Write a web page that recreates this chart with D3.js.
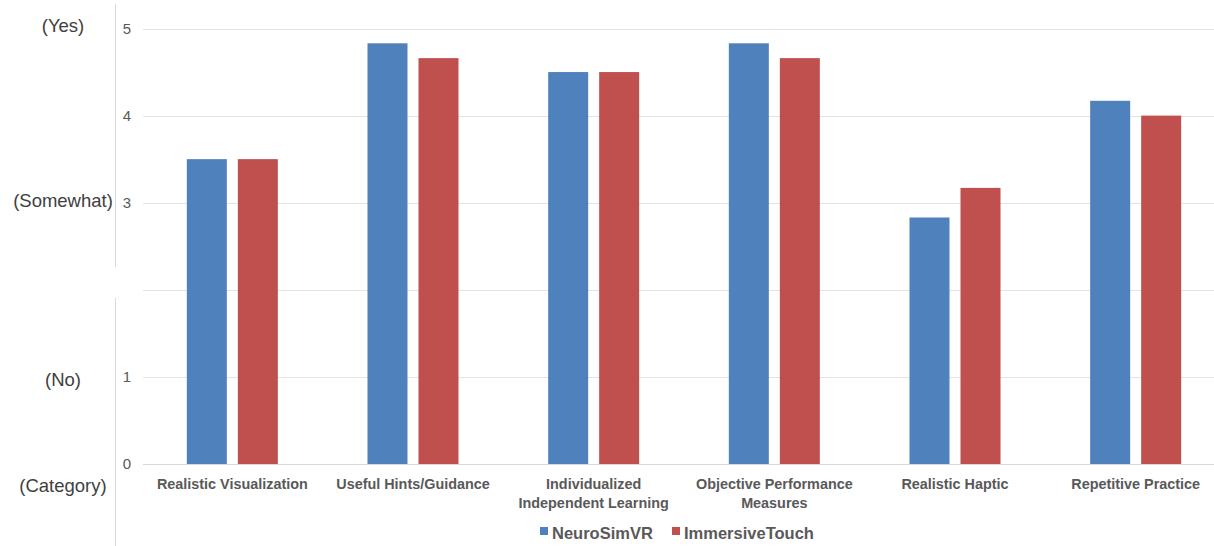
<!DOCTYPE html>
<html><head><meta charset="utf-8">
<script src="https://cdn.jsdelivr.net/npm/d3@7"></script>
<style>body{margin:0;background:#fff;} svg{display:block;font-family:"Liberation Sans",Arial,sans-serif;}</style>
</head><body><svg id="c" width="1214" height="546"></svg>
<script>
const categories = ["Realistic Visualization","Useful Hints/Guidance","Individualized\nIndependent Learning","Objective Performance\nMeasures","Realistic Haptic","Repetitive Practice"];
const seriesNames = ["NeuroSimVR","ImmersiveTouch"];
const neuroSimVR = [3.5,4.83,4.5,4.83,2.83,4.17];
const immersiveTouch = [3.5,4.66,4.5,4.66,3.17,4.0];
const yTicks = [0,1,3,4,5];
const gridValues = [0,1,2,3,4,5];
const scaleLabels = [{v:4.96,t:"(Yes)"},{v:2.95,t:"(Somewhat)"},{v:0.89,t:"(No)"},{v:-0.32,t:"(Category)"}];
const colors = ["#4F81BD","#C0504D"];

const svg = d3.select("#c");
const x0 = d3.scaleBand().domain(categories).range([142,1226]).paddingInner(0).paddingOuter(0);
const y = d3.scaleLinear().domain([0,5]).range([464,28.5]);
const x1 = d3.scaleBand().domain(seriesNames).range([0,x0.bandwidth()]).paddingOuter(0.879).paddingInner(0.2157);

// left vertical line
svg.append("line").attr("x1",115.5).attr("x2",115.5).attr("y1",4).attr("y2",267).attr("stroke","#d9d9d9");
svg.append("line").attr("x1",115.5).attr("x2",115.5).attr("y1",298).attr("y2",546).attr("stroke","#d9d9d9");

// grid
svg.append("g").selectAll("line").data(gridValues).join("line")
  .attr("x1",143).attr("x2",1214)
  .attr("y1",d=>Math.round(y(d))+0.5).attr("y2",d=>Math.round(y(d))+0.5)
  .attr("stroke",d=>d===0?"#d9d9d9":"#e3e3e3").attr("stroke-width",1);

// y axis labels
const yAxis = d3.axisLeft(y).tickValues(yTicks).tickSize(0).tickPadding(0).tickFormat(d3.format("d"));
const ga = svg.append("g").attr("transform","translate(131,0)").call(yAxis);
ga.select(".domain").remove();
ga.selectAll("text").attr("font-size",15).attr("fill","#595959").attr("font-family","Liberation Sans, Arial, sans-serif");

// scale labels
svg.append("g").selectAll("text").data(scaleLabels).join("text")
  .attr("x",63).attr("y",d=>y(d.v))
  .attr("text-anchor","middle").attr("font-size",18.5).attr("fill","#404040")
  .text(d=>d.t);

// bars
const groups = svg.append("g").selectAll("g").data(categories.map((c,i)=>({c,vals:[neuroSimVR[i],immersiveTouch[i]]})))
  .join("g").attr("transform",d=>`translate(${x0(d.c)},0)`);
groups.selectAll("rect").data(d=>d.vals.map((v,j)=>({v,s:seriesNames[j],j})))
  .join("rect")
  .attr("x",d=>x1(d.s)).attr("width",x1.bandwidth())
  .attr("y",d=>y(d.v)).attr("height",d=>y(0)-y(d.v))
  .attr("fill",d=>colors[d.j]);

// category labels
const cl = svg.append("g").selectAll("text").data(categories).join("text")
  .attr("x",d=>x0(d)+x0.bandwidth()/2).attr("y",489)
  .attr("text-anchor","middle").attr("font-size",14.4).attr("font-weight","bold").attr("fill","#595959");
cl.each(function(d){
  const lines=d.split("\n");
  d3.select(this).selectAll("tspan").data(lines).join("tspan")
    .attr("x",x0(d)+x0.bandwidth()/2).attr("dy",(l,i)=>i===0?0:19).text(l=>l);
});

// legend
const legend = svg.append("g");
const legX = [540,672];
seriesNames.forEach((s,i)=>{
  legend.append("rect").attr("x",legX[i]).attr("y",527).attr("width",8).attr("height",8).attr("fill",colors[i]);
  legend.append("text").attr("x",legX[i]+12).attr("y",539).attr("font-size",16.5).attr("font-weight","bold").attr("fill","#595959").text(s);
});
</script></body></html>
